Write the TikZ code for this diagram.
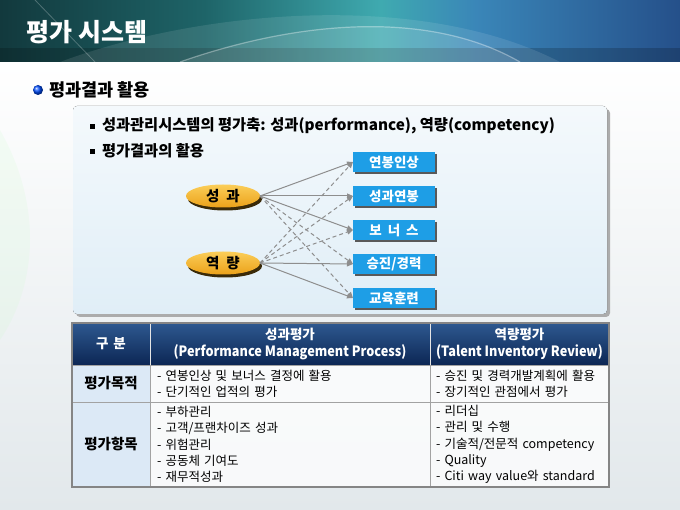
\documentclass[tikz,border=0pt]{standalone}
\usepackage{fontspec}
\setmainfont{Noto Sans CJK KR}
\usetikzlibrary{shapes.geometric,arrows.meta,shadows}
\definecolor{hA}{HTML}{12393D}
\definecolor{hB}{HTML}{1E6468}
\definecolor{hC}{HTML}{3FAAB0}
\definecolor{hD}{HTML}{3A86B8}
\definecolor{hE}{HTML}{25508A}
\definecolor{bgBot}{HTML}{E2E8EB}
\definecolor{boxTop}{HTML}{F4F9FC}
\definecolor{boxBot}{HTML}{E0EEF7}
\definecolor{oTop}{HTML}{FBCE58}
\definecolor{oBot}{HTML}{EBA11A}
\definecolor{oSh}{HTML}{3A2A08}
\definecolor{bBlue}{HTML}{1E9EE6}
\definecolor{lk}{HTML}{8E8E8E}
\definecolor{tTop}{HTML}{2E5990}
\definecolor{tBot}{HTML}{0C2654}
\definecolor{lab}{HTML}{DCE9F6}
\definecolor{grid}{HTML}{A2A2A2}
\definecolor{outer}{HTML}{858585}
\pgfdeclarehorizontalshading{hdrshade}{100bp}{color(0bp)=(hA); color(25bp)=(hA); color(40bp)=(hB); color(53bp)=(hC); color(60bp)=(hD); color(75bp)=(hE); color(100bp)=(hE)}
\newcommand{\cnd}[1]{\scalebox{0.94}[1.05]{#1}}
\begin{document}
\begin{tikzpicture}[x=1pt,y=-1pt,
  every node/.style={inner sep=0pt,outer sep=0pt},
  titletext/.style={text=white,font=\bfseries\fontsize{25}{25}\selectfont,anchor=west},
  headtext/.style={font=\bfseries\fontsize{17.5}{17.5}\selectfont,anchor=west},
  bullettext/.style={font=\bfseries\fontsize{15.3}{15.3}\selectfont,anchor=west},
  oval/.style={ellipse,minimum width=74pt,minimum height=23pt,top color=oTop,bottom color=oBot,
    font=\bfseries\fontsize{14.5}{14.5}\selectfont,
    drop shadow={shadow xshift=2pt,shadow yshift=-3pt,fill=oSh,opacity=1}},
  bluebox/.style={rectangle,minimum width=82pt,minimum height=20pt,fill=bBlue,text=white,
    font=\bfseries\fontsize{13.5}{13.5}\selectfont,
    drop shadow={shadow xshift=2pt,shadow yshift=-2pt,fill=black!65,opacity=1}},
  link/.style={draw=lk,line width=1pt,-{Triangle[length=6pt,width=5pt]}},
  dlink/.style={link,dash pattern=on 4pt off 3pt},
  hcell/.style={rectangle,anchor=north west,minimum height=42pt,top color=tTop,bottom color=tBot,
    draw=white!80!gray,line width=0.6pt,text=white,align=center,
    font=\bfseries\fontsize{13.5}{17}\selectfont},
  lcell/.style={rectangle,anchor=north west,minimum width=78pt,fill=lab,draw=grid,line width=0.7pt,
    font=\bfseries\fontsize{14.5}{14.5}\selectfont},
  bcell/.style={rectangle,anchor=north west,fill=white,fill opacity=0.75,text opacity=1,draw=grid,
    line width=0.7pt,align=left,font=\fontsize{12.5}{16.3}\selectfont},
]
\useasboundingbox (0,0) rectangle (680,510);
% background
\shade[top color=white,bottom color=bgBot] (0,62) rectangle (680,510);
\fill[green!25!white,opacity=0.12] (0,130) .. controls (40,200) and (40,280) .. (0,340) -- cycle;
% header band
\shade[shading=hdrshade] (0,0) rectangle (680,62);
\fill[black,opacity=0.18] (0,48) rectangle (680,62);
\fill[white,opacity=0.10] (60,62) .. controls (200,10) and (420,-10) .. (560,62) -- cycle;
\fill[white,opacity=0.10] (180,62) .. controls (300,20) and (430,10) .. (520,62) -- cycle;
\draw[white,opacity=0.35,line width=1.2pt] (180,62) .. controls (300,20) and (430,10) .. (520,62);
\draw[white,opacity=0.25,line width=0.8pt] (35,0) -- (95,62);
\draw[white,opacity=0.5,line width=0.8pt] (0,62) -- (680,62);
\node[titletext] (title) at (27,32) {평가 시스템};
% section heading
\shade[ball color=blue!70!cyan] (38,90) circle (5pt);
\node[headtext] (head) at (49,90) {평과결과 활용};
% content box
\fill[gray!65,rounded corners=4pt] (76,109) rectangle (610,317);
\fill[top color=boxTop,bottom color=boxBot,rounded corners=4pt] (73,106) rectangle (607,314);
\fill (90,124) rectangle (95,129);
\fill (90,149) rectangle (95,154);
\node[bullettext] (l1) at (102,126) {성과관리시스템의 평가축: 성과(performance), 역량(competency)};
\node[bullettext] (l2) at (102,151) {평가결과의 활용};
% diagram
\node[oval] (sg) at (223,196) {성\hspace{7pt}과};
\node[oval] (yr) at (223,263) {역\hspace{7pt}량};
\node[bluebox] (b1) at (394,162) {연봉인상};
\node[bluebox] (b2) at (394,196) {성과연봉};
\node[bluebox] (b3) at (394,230) {보\hspace{6pt}너\hspace{6pt}스};
\node[bluebox] (b4) at (394,264) {승진/경력};
\node[bluebox] (b5) at (394,298) {교육훈련};
\draw[dlink] (yr.east) -- (b1.west);
\draw[dlink] (yr.east) -- (b2.west);
\draw[dlink] (yr.east) -- (b3.west);
\draw[dlink] (sg.east) -- (b4.west);
\draw[dlink] (sg.east) -- (b5.west);
\draw[link] (sg.east) -- (b1.west);
\draw[link] (sg.east) -- (b2.west);
\draw[link] (sg.east) -- (b3.west);
\draw[link] (yr.east) -- (b4.west);
\draw[link] (yr.east) -- (b5.west);
% table
\node[hcell,minimum width=78pt] (h1) at (72,323) {구\hspace{5pt}분};
\node[hcell,minimum width=280pt] (h2) at (150,323) {성과평가\\\cnd{(Performance Management Process)}};
\node[hcell,minimum width=179pt] (h3) at (430,323) {역량평가\\\cnd{(Talent Inventory Review)}};
\node[lcell,minimum height=37pt] (r1a) at (72,365) {평가목적};
\node[bcell,minimum height=37pt,text width=266pt,inner xsep=7pt] (r1b) at (150,365)
  {- 연봉인상 및 보너스 결정에 활용\\- 단기적인 업적의 평가};
\node[bcell,minimum height=37pt,text width=167pt,inner xsep=6pt] (r1c) at (430,365)
  {- 승진 및 경력개발계획에 활용\\- 장기적인 관점에서 평가};
\node[lcell,minimum height=85pt] (r2a) at (72,402) {평가항목};
\node[bcell,minimum height=85pt,text width=266pt,inner xsep=7pt] (r2b) at (150,402)
  {- 부하관리\\- 고객/프랜차이즈 성과\\- 위험관리\\- 공동체 기여도\\- 재무적성과};
\node[bcell,minimum height=85pt,text width=167pt,inner xsep=6pt] (r2c) at (430,402)
  {- 리더십\\- 관리 및 수행\\- 기술적/전문적 competency\\- Quality\\- Citi way value와 standard};
\draw[outer,line width=1.6pt] (h1.north west) rectangle (r2c.south east);
\end{tikzpicture}
\end{document}
